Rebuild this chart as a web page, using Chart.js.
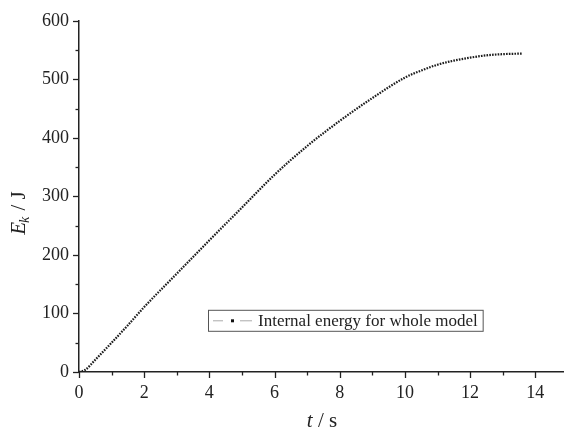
<!DOCTYPE html>
<html>
<head>
<meta charset="utf-8">
<script src="https://cdn.jsdelivr.net/npm/chart.js@4"></script>
<style>
  html, body { margin: 0; padding: 0; background: #fff; }
  #wrap { width: 564px; height: 431px; }
</style>
</head>
<body>
<div id="wrap"><canvas id="chartEnergy" width="564" height="431"></canvas></div>
<script>
// ── Data ─────────────────────────────────────────────────────
const timeS   = [0, 0.2, 0.5, 1, 1.5, 2, 3, 4, 5, 6, 7, 8, 9, 10, 10.5, 11, 11.5, 12, 12.5, 13, 13.6];
const energyJ = [0, 4, 21, 50, 80, 111, 168, 225, 281, 337, 386, 429, 468, 503, 515, 525, 532, 537, 541, 543, 544];

const xTicks = [0, 2, 4, 6, 8, 10, 12, 14];
const yTicks = [0, 100, 200, 300, 400, 500, 600];
const seriesLabel = 'Internal energy for whole model';

const SERIF = '"Liberation Serif", "Times New Roman", serif';
const INK   = '#222';

// ── Ticks (major + minor), drawn outward ─────────────────────
const axisTicks = {
  id: 'axisTicks',
  afterDraw(chart) {
    const { ctx, scales: { x, y } } = chart;
    ctx.save();
    ctx.strokeStyle = INK;
    ctx.lineWidth = 1.3;
    for (let v = 0; v <= 14; v += 1) {
      const px = Math.round(x.getPixelForValue(v)) + 0.5;
      const len = xTicks.includes(v) ? 6 : 3.5;
      ctx.beginPath();
      ctx.moveTo(px, y.bottom);
      ctx.lineTo(px, y.bottom + len);
      ctx.stroke();
    }
    for (let v = 0; v <= 600; v += 50) {
      const py = Math.round(y.getPixelForValue(v)) + 0.5;
      const len = yTicks.includes(v) ? 6 : 3.5;
      ctx.beginPath();
      ctx.moveTo(x.left, py);
      ctx.lineTo(x.left - len, py);
      ctx.stroke();
    }
    ctx.restore();
  }
};

// ── Axis titles with italic symbols / subscript ──────────────
const axisTitles = {
  id: 'axisTitles',
  afterDraw(chart) {
    const { ctx } = chart;
    ctx.save();
    ctx.fillStyle = INK;
    ctx.textBaseline = 'middle';

    // y title: E_k / J
    const big = 'italic 21px ' + SERIF;
    const sub = 'italic 14px ' + SERIF;
    const up  = '21px ' + SERIF;
    ctx.font = big; const wE = ctx.measureText('E').width;
    ctx.font = sub; const wk = ctx.measureText('k').width;
    ctx.font = up;  const wJ = ctx.measureText(' / J').width;
    const total = wE + wk + wJ;
    ctx.translate(19, 213);
    ctx.rotate(-Math.PI / 2);
    let cx = -total / 2;
    ctx.textAlign = 'left';
    ctx.font = big; ctx.fillText('E', cx, 0); cx += wE;
    ctx.font = sub; ctx.fillText('k', cx - 1, 6); cx += wk;
    ctx.font = up;  ctx.fillText(' / J', cx, 0);
    ctx.setTransform(1, 0, 0, 1, 0, 0);

    // x title: t / s
    ctx.font = 'italic 21px ' + SERIF; const wt = ctx.measureText('t').width;
    ctx.font = '21px ' + SERIF;        const ws = ctx.measureText(' / s').width;
    let tx = 322 - (wt + ws) / 2;
    ctx.font = 'italic 21px ' + SERIF; ctx.fillText('t', tx, 421); tx += wt;
    ctx.font = '21px ' + SERIF;        ctx.fillText(' / s', tx, 421);
    ctx.restore();
  }
};

// ── Boxed legend inside the plot ─────────────────────────────
const boxLegend = {
  id: 'boxLegend',
  afterDraw(chart) {
    const { ctx, chartArea } = chart;
    const left = chartArea.left + 129, top = chartArea.top + 289;
    ctx.save();
    ctx.font = '17px ' + SERIF;
    const w = 50 + ctx.measureText(seriesLabel).width + 5;
    const h = 21;
    ctx.fillStyle = '#fff';
    ctx.fillRect(left, top, w, h);
    ctx.strokeStyle = '#555';
    ctx.lineWidth = 1;
    ctx.strokeRect(left + 0.5, top + 0.5, w, h);
    const my = top + h / 2 + 0.5;
    ctx.strokeStyle = '#aaa';
    ctx.beginPath();
    ctx.moveTo(left + 5, my);  ctx.lineTo(left + 15, my);
    ctx.moveTo(left + 32, my); ctx.lineTo(left + 44, my);
    ctx.stroke();
    ctx.fillStyle = '#111';
    ctx.fillRect(left + 23, my - 1.5, 3, 3);
    ctx.fillStyle = INK;
    ctx.textBaseline = 'middle';
    ctx.fillText(seriesLabel, left + 50, my + 1);
    ctx.restore();
  }
};

// ── Chart ────────────────────────────────────────────────────
const ctx = document.getElementById('chartEnergy').getContext('2d');
new Chart(ctx, {
  type: 'line',
  data: {
    datasets: [{
      label: seriesLabel,
      data: timeS.map((t, i) => ({ x: t, y: energyJ[i] })),
      borderColor: '#1c1c1c',
      borderWidth: 2.2,
      borderDash: [1.6, 1.2],
      pointRadius: 0,
      cubicInterpolationMode: 'monotone',
      fill: false,
    }]
  },
  options: {
    responsive: false,
    animation: false,
    layout: { padding: { top: 14, right: 1, left: 0, bottom: 0 } },
    plugins: { legend: { display: false }, tooltip: { enabled: false } },
    scales: {
      x: {
        type: 'linear',
        min: 0,
        max: 14.85,
        afterFit: s => { s.height = 59; },
        afterBuildTicks: s => { s.ticks = xTicks.map(v => ({ value: v })); },
        ticks: { color: INK, padding: 10, maxRotation: 0, font: { family: SERIF, size: 18 } },
        grid: { display: true, drawOnChartArea: false, drawTicks: false },
        border: { display: true, color: INK, width: 1.5 },
      },
      y: {
        min: 0,
        max: 600,
        afterFit: s => { s.width = 79; },
        afterBuildTicks: s => { s.ticks = yTicks.map(v => ({ value: v })); },
        ticks: { color: INK, padding: 10, font: { family: SERIF, size: 18 } },
        grid: { display: true, drawOnChartArea: false, drawTicks: false },
        border: { display: true, color: INK, width: 1.5 },
      }
    }
  },
  plugins: [axisTicks, axisTitles, boxLegend]
});
</script>
</body>
</html>
